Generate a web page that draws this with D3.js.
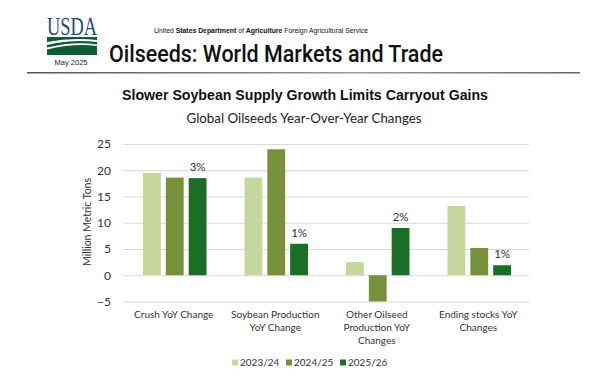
<!DOCTYPE html>
<html><head><meta charset="utf-8">
<script src="https://cdn.jsdelivr.net/npm/d3@7"></script>
<style>body{margin:0;background:#fff}svg{display:block}</style>
</head><body><svg id="c" width="612" height="382"></svg>
<script>
const categories = ["Crush YoY Change", "Soybean Production YoY Change", "Other Oilseed Production YoY Changes", "Ending stocks YoY Changes"];
const categoryLines = [["Crush YoY Change"], ["Soybean Production", "YoY Change"], ["Other Oilseed", "Production YoY", "Changes"], ["Ending stocks YoY", "Changes"]];
const seriesNames = ["2023/24", "2024/25", "2025/26"];
const v2023 = [19.5, 18.6, 2.5, 13.2];
const v2024 = [18.6, 24.0, -5.0, 5.2];
const v2025 = [18.5, 6.0, 9.0, 1.9];
const pctLabels = ["3%", "1%", "2%", "1%"];
const yTicks = [-5, 0, 5, 10, 15, 20, 25];
const colors = ["#c6d79d", "#77913b", "#1a6e25"];

const series = [v2023, v2024, v2025];
const svg = d3.select("#c");
const font = "Lato, 'Open Sans', sans-serif";

// Header
svg.append("text").attr("x", 72).attr("y", 35).attr("text-anchor", "middle")
  .attr("font-family", "'Liberation Serif',serif").attr("font-size", 25)
  .attr("fill", "#234a80").attr("textLength", 50).attr("lengthAdjust", "spacingAndGlyphs").text("USDA");
svg.append("rect").attr("x", 47).attr("y", 37).attr("width", 50).attr("height", 18).attr("fill", "#0f5b34");
svg.append("path").attr("d", "M47,42 Q72,37 97,40 L97,42 Q72,39 47,45Z").attr("fill", "#fff");
svg.append("path").attr("d", "M47,47.5 Q74,41 97,44.5 L97,46 Q74,43 47,49.5Z").attr("fill", "#fff");
svg.append("text").attr("x", 71).attr("y", 65).attr("text-anchor", "middle")
  .attr("font-family", "'Liberation Sans',Arial,sans-serif").attr("font-size", 7.5).attr("fill", "#222").text("May 2025");

const hdr = svg.append("text").attr("x", 154).attr("y", 33)
  .attr("font-family", "'Liberation Sans',Arial,sans-serif").attr("font-size", 6.6).attr("fill", "#111")
  .attr("textLength", 214).attr("lengthAdjust", "spacingAndGlyphs");
hdr.append("tspan").text("United ");
hdr.append("tspan").attr("font-weight", "bold").text("States Department ");
hdr.append("tspan").text("of ");
hdr.append("tspan").attr("font-weight", "bold").text("Agriculture ");
hdr.append("tspan").text("Foreign Agricultural Service");

svg.append("text").attr("x", 109).attr("y", 62)
  .attr("font-family", "Roboto,'Liberation Sans',sans-serif").attr("font-weight", 500).attr("font-size", 24).attr("fill", "#111")
  .attr("textLength", 334).attr("lengthAdjust", "spacingAndGlyphs")
  .text("Oilseeds: World Markets and Trade");

const grad = svg.append("defs").append("linearGradient").attr("id", "lg");
grad.append("stop").attr("offset", "0%").attr("stop-color", "#555");
grad.append("stop").attr("offset", "60%").attr("stop-color", "#999");
grad.append("stop").attr("offset", "100%").attr("stop-color", "#666");
svg.append("rect").attr("x", 27).attr("y", 72).attr("width", 553).attr("height", 1.5).attr("fill", "url(#lg)");

// Titles
svg.append("text").attr("x", 305).attr("y", 100).attr("text-anchor", "middle")
  .attr("font-family", "'Liberation Sans',Arial,sans-serif").attr("font-weight", "bold").attr("font-size", 14.5).attr("fill", "#111")
  .attr("textLength", 366).attr("lengthAdjust", "spacingAndGlyphs")
  .text("Slower Soybean Supply Growth Limits Carryout Gains");
svg.append("text").attr("x", 304).attr("y", 123).attr("text-anchor", "middle")
  .attr("font-family", font).attr("font-size", 13).attr("fill", "#222")
  .attr("textLength", 235).attr("lengthAdjust", "spacingAndGlyphs")
  .text("Global Oilseeds Year-Over-Year Changes");

// Chart
const x0 = d3.scaleBand().domain(categories).range([123, 529]).paddingInner(0).paddingOuter(0);
const y = d3.scaleLinear().domain([-5, 25]).range([301.5, 144]);
const x1 = d3.scaleBand().domain(seriesNames).range([20, x0.bandwidth() - 18]).paddingInner(0.22).paddingOuter(0);

const yAxis = d3.axisLeft(y).tickValues(yTicks).tickSize(-(529 - 123)).tickPadding(10);
const ga = svg.append("g").attr("transform", "translate(123,0)").call(yAxis);
ga.select(".domain").remove();
ga.selectAll(".tick line").attr("stroke", "#d9d9d9").attr("stroke-width", 1);
ga.selectAll(".tick text").attr("font-family", font).attr("font-size", 12).attr("fill", "#333").attr("x", -12);

svg.append("text").attr("transform", "translate(91,222) rotate(-90)").attr("text-anchor", "middle")
  .attr("font-family", font).attr("font-size", 10.5).attr("fill", "#333").text("Million Metric Tons");

const groups = svg.append("g").selectAll("g").data(categories).join("g")
  .attr("transform", d => `translate(${x0(d)},0)`);
groups.selectAll("rect").data((d, i) => series.map((s, k) => ({ k, v: s[i] }))).join("rect")
  .attr("x", d => x1(seriesNames[d.k])).attr("width", x1.bandwidth())
  .attr("y", d => y(Math.max(0, d.v))).attr("height", d => Math.abs(y(d.v) - y(0)))
  .attr("fill", d => colors[d.k]);
groups.append("text").attr("x", x1("2025/26") + x1.bandwidth() / 2)
  .attr("y", (d, i) => y(v2025[i]) - 7).attr("text-anchor", "middle")
  .attr("font-family", font).attr("font-size", 11.5).attr("fill", "#333")
  .text((d, i) => pctLabels[i]);

// Category labels
categories.forEach((c, i) => {
  const t = svg.append("text").attr("x", x0(c) + x0.bandwidth() / 2).attr("y", 318)
    .attr("text-anchor", "middle").attr("font-family", font).attr("font-size", 10).attr("fill", "#333");
  categoryLines[i].forEach((l, j) => t.append("tspan").attr("x", x0(c) + x0.bandwidth() / 2).attr("dy", j ? 13 : 0).text(l));
});

// Legend
const lx = [232, 286, 340];
seriesNames.forEach((s, k) => {
  svg.append("rect").attr("x", lx[k]).attr("y", 359.5).attr("width", 6).attr("height", 6).attr("fill", colors[k]);
  svg.append("text").attr("x", lx[k] + 8).attr("y", 366).attr("font-family", font).attr("font-size", 10)
    .attr("fill", "#333").text(s);
});
</script></body></html>
